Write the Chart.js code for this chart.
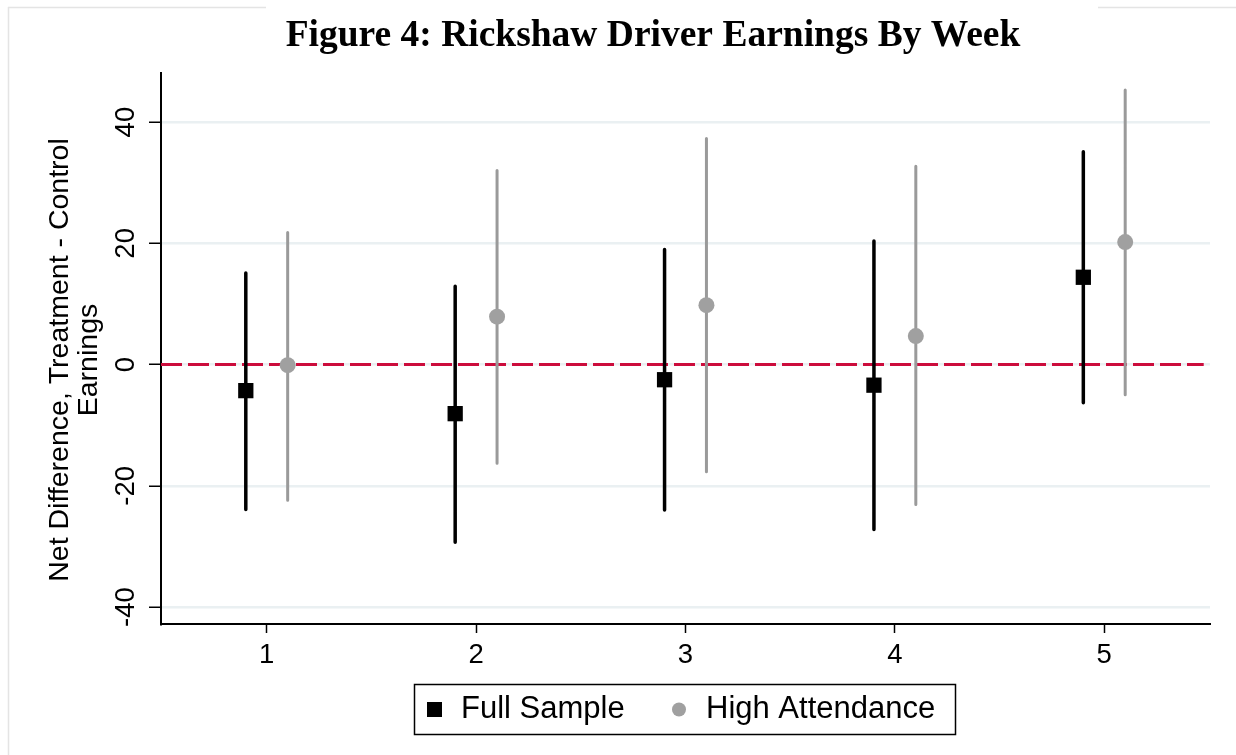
<!DOCTYPE html>
<html><head><meta charset="utf-8">
<script src="https://cdn.jsdelivr.net/npm/chart.js@4"></script>
<style>html,body{margin:0;padding:0;background:#fff}canvas{display:block}</style>
</head><body>
<canvas id="c" width="1236" height="755"></canvas>
<script>
// ---- data ----
const weeks = [1, 2, 3, 4, 5];
const xTickLabels = ['1', '2', '3', '4', '5'];
const yTicks = [-40, -20, 0, 20, 40];
const fullEst = [-4.3, -8.1, -2.5, -3.4, 14.4];
const fullLo  = [-23.9, -29.3, -24.0, -27.2, -6.3];
const fullHi  = [15.1, 12.9, 19.0, 20.4, 35.1];
const highEst = [-0.1, 7.9, 9.8, 4.7, 20.2];
const highLo  = [-22.4, -16.3, -17.7, -23.1, -5.0];
const highHi  = [21.8, 32.0, 37.3, 32.7, 45.3];
const seriesNames = ['Full Sample', 'High Attendance'];
const titleText = 'Figure 4: Rickshaw Driver Earnings By Week';
const yTitleLines = ['Net Difference, Treatment - Control', 'Earnings'];
const refLineValue = 0;

// ---- styling ----
const FULL_OFFSET = -0.1, HIGH_OFFSET = 0.1;
const X_MIN = 0.495, X_MAX = 5.505, Y_MIN = -42.8, Y_MAX = 48.1;
const BLACK = '#000000', GRAY = '#a0a0a0', GRAY_BAR = '#9a9a9a', RED = '#cc0c3c';
const SANS = '"Liberation Sans", Arial, Helvetica, sans-serif';

function points(est, off) { return weeks.map((w, i) => ({ x: w + off, y: est[i] })); }
function bars(lo, hi, off) {
  const d = [];
  weeks.forEach((w, i) => { d.push({ x: w + off, y: lo[i] }, { x: w + off, y: hi[i] }, { x: w + off, y: null }); });
  return d;
}

const deco = {
  id: 'deco',
  beforeDraw(chart) {
    const ctx = chart.ctx;
    ctx.save();
    ctx.fillStyle = '#fff';
    ctx.fillRect(0, 0, chart.width, chart.height);
    ctx.strokeStyle = '#e4e4e4';
    ctx.lineWidth = 1.5;
    ctx.beginPath();
    ctx.moveTo(8, 7.5); ctx.lineTo(266, 7.5);
    ctx.moveTo(1098, 7.5); ctx.lineTo(chart.width, 7.5);
    ctx.moveTo(8.5, 7); ctx.lineTo(8.5, chart.height);
    ctx.stroke();
    ctx.restore();
  },
  afterDraw(chart) {
    const ctx = chart.ctx;
    const ys = chart.scales.y;
    ctx.save();
    // title
    ctx.fillStyle = '#000';
    ctx.font = 'bold 37.5px "Liberation Serif", "Times New Roman", serif';
    ctx.textAlign = 'center';
    ctx.textBaseline = 'alphabetic';
    ctx.fillText(titleText, 653, 46);
    // y tick labels (rotated)
    ctx.font = '27.5px ' + SANS;
    ctx.textBaseline = 'middle';
    yTicks.forEach(v => {
      const py = ys.getPixelForValue(v);
      ctx.save();
      ctx.translate(126, py);
      ctx.rotate(-Math.PI / 2);
      ctx.fillText(String(v), 0, 0);
      ctx.restore();
    });
    // y axis title
    ctx.font = '28.5px ' + SANS;
    const tx = [60, 89];
    yTitleLines.forEach((t, i) => {
      ctx.save();
      ctx.translate(tx[i], 360);
      ctx.rotate(-Math.PI / 2);
      ctx.fillText(t, 0, 0);
      ctx.restore();
    });
    // legend
    ctx.strokeStyle = '#000';
    ctx.lineWidth = 1.5;
    ctx.strokeRect(414.5, 684.5, 541, 50);
    ctx.fillStyle = BLACK;
    ctx.fillRect(427, 702, 15, 15);
    ctx.fillStyle = GRAY;
    ctx.beginPath(); ctx.arc(679, 709.5, 7, 0, Math.PI * 2); ctx.fill();
    ctx.fillStyle = '#000';
    ctx.font = '31px ' + SANS;
    ctx.textAlign = 'left';
    ctx.textBaseline = 'middle';
    ctx.fillText(seriesNames[0], 461, 709);
    ctx.fillText(seriesNames[1], 706, 709);
    ctx.restore();
  }
};

new Chart(document.getElementById('c'), {
  type: 'scatter',
  data: {
    datasets: [
      { label: 'ref', type: 'line', data: [{ x: X_MIN, y: refLineValue }, { x: X_MAX - 0.03, y: refLineValue }],
        borderColor: RED, borderWidth: 3, borderDash: [21, 6], pointRadius: 0, showLine: true, order: 10 },
      { label: seriesNames[1] + ' CI', type: 'line', data: bars(highLo, highHi, HIGH_OFFSET), spanGaps: false,
        borderColor: GRAY_BAR, borderWidth: 3, borderCapStyle: 'round', pointRadius: 0, showLine: true, order: 6 },
      { label: seriesNames[1], data: points(highEst, HIGH_OFFSET), pointStyle: 'circle', pointRadius: 8,
        backgroundColor: GRAY, borderColor: GRAY, borderWidth: 0, order: 5 },
      { label: seriesNames[0] + ' CI', type: 'line', data: bars(fullLo, fullHi, FULL_OFFSET), spanGaps: false,
        borderColor: BLACK, borderWidth: 3.5, borderCapStyle: 'round', pointRadius: 0, showLine: true, order: 4 },
      { label: seriesNames[0], data: points(fullEst, FULL_OFFSET), pointStyle: 'rect', pointRadius: 10.8,
        backgroundColor: BLACK, borderColor: BLACK, borderWidth: 0, order: 3 }
    ]
  },
  options: {
    responsive: false,
    animation: false,
    devicePixelRatio: 1,
    layout: { padding: { top: 73, right: 26, bottom: 0, left: 0 } },
    plugins: { legend: { display: false }, title: { display: false }, tooltip: { enabled: false } },
    scales: {
      x: {
        type: 'linear', min: X_MIN, max: X_MAX,
        afterBuildTicks: s => { s.ticks = weeks.map(v => ({ value: v })); },
        afterFit: s => { s.height = 131; },
        ticks: { callback: (v) => xTickLabels[weeks.indexOf(v)] ?? '', color: '#000', font: { family: SANS, size: 27.5 }, padding: 6, maxRotation: 0 },
        grid: { drawOnChartArea: false, drawTicks: true, tickLength: 9, tickColor: '#000', tickWidth: 1.5 },
        border: { display: true, color: '#000', width: 2 }
      },
      y: {
        type: 'linear', min: Y_MIN, max: Y_MAX,
        afterBuildTicks: s => { s.ticks = yTicks.map(v => ({ value: v })); },
        afterFit: s => { s.width = 161; },
        ticks: { display: false },
        grid: { color: '#eaf0f2', lineWidth: 2.5, drawTicks: true, tickLength: 12, tickColor: '#000', tickWidth: 1.5 },
        border: { display: true, color: '#000', width: 2 }
      }
    }
  },
  plugins: [deco]
});
</script>
</body></html>
